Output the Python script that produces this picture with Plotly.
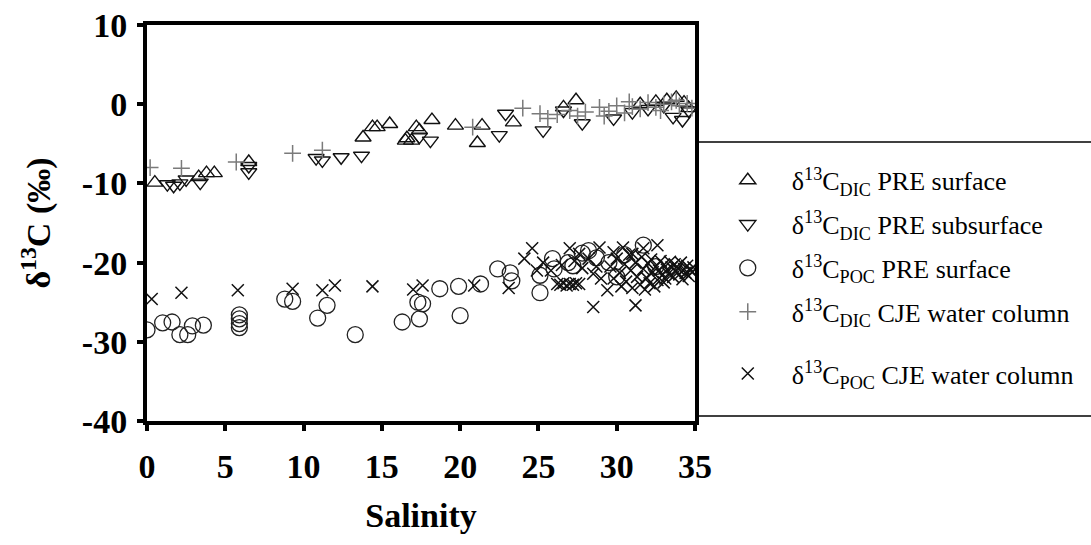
import plotly.graph_objects as go

# ---- data ----
dic_pre_surf_x = [0.5, 3.3, 3.8, 4.3, 6.5, 13.8, 14.4, 14.7, 15.5, 16.5, 16.9, 17.2, 16.6, 17.4,
                  18.2, 19.7, 21.4, 21.1, 23.4, 26.6, 27.4, 31.5, 32.5, 33.2, 33.8, 34.3, 34.6]
dic_pre_surf_y = [-9.9, -9.2, -8.7, -8.7, -7.3, -4.2, -2.9, -2.9, -2.5, -4.6, -4.6, -2.9, -4.3, -3.3,
                  -2.0, -2.7, -2.7, -4.9, -2.3, -0.4, 0.5, 0.0, 0.3, 0.5, 0.8, 0.2, -0.5]

dic_pre_sub_x = [1.3, 1.7, 2.1, 2.5, 3.4, 6.5, 6.5, 10.8, 11.2, 12.4, 13.7, 17.4, 18.1, 22.5, 22.9,
                 25.3, 26.6, 27.8, 29.8, 31.0, 32.0, 33.0, 33.6, 34.2, 34.6]
dic_pre_sub_y = [-10.1, -10.3, -10.0, -9.5, -9.9, -7.8, -8.6, -6.8, -7.1, -6.7, -6.5, -4.1, -4.6, -3.9, -1.2,
                 -3.3, -0.8, -2.4, -1.8, -1.0, -0.6, -0.2, -1.6, -2.0, -0.8]

poc_pre_surf_x = [0.0, 1.0, 1.6, 2.1, 2.6, 2.9, 3.6, 5.9, 5.9, 5.9, 5.9, 8.8, 9.3, 10.9, 11.5, 13.3,
                  16.3, 17.3, 17.4, 17.6, 18.7, 19.9, 20.0, 21.3, 22.4, 23.2, 23.3, 25.1, 25.1, 25.9,
                  26.9, 27.2, 28.2, 28.7, 29.5, 30.5, 31.7, 32.5, 26.0, 27.8, 30.0]
poc_pre_surf_y = [-28.5, -27.6, -27.5, -29.1, -29.1, -28.0, -27.9, -26.6, -27.1, -27.7, -28.2, -24.6, -24.9,
                  -27.0, -25.4, -29.1, -27.5, -25.0, -27.1, -25.2, -23.3, -23.0, -26.7, -22.7, -20.8, -21.3,
                  -22.3, -23.8, -21.6, -19.5, -20.0, -20.4, -18.5, -19.4, -20.0, -19.0, -17.8, -20.5, -20.8,
                  -18.8, -21.8]

dic_cje_x = [0.2, 2.2, 5.7, 9.3, 11.2, 20.8, 24.0, 25.1, 25.6, 27.0, 28.0, 28.9, 29.5, 30.0, 30.5, 31.0,
             31.5, 32.0, 32.5, 33.0, 33.5, 34.0, 34.5, 34.8, 29.2, 30.8, 32.8, 33.8, 26.2, 27.5]
dic_cje_y = [-8.0, -8.1, -7.3, -6.2, -5.8, -2.9, -0.5, -1.2, -1.8, -0.8, -1.0, -0.4, -0.9, -0.2, -1.1, -0.3,
             -0.6, 0.2, -0.4, 0.0, 0.3, -0.2, 0.1, -0.5, -1.5, 0.3, -0.8, 0.5, -1.3, -1.5]

poc_cje_x = [0.3, 2.2, 5.8, 9.3, 11.2, 12.0, 14.4, 17.0, 17.6, 20.9, 23.1, 24.1, 24.6, 24.9, 25.3, 27.0,
             27.6, 28.5, 28.9, 28.5, 31.2, 26.2, 26.4, 26.6, 26.8, 27.0, 27.2, 27.4, 27.6,
             29.6, 29.8, 30.0, 30.2, 30.3, 30.5, 30.6, 30.8, 30.9, 31.0, 31.2, 31.3, 31.5, 31.6, 31.7,
             31.9, 32.0, 32.1, 32.2, 32.3, 32.5, 32.6, 32.7, 32.8, 32.9, 33.0, 33.1, 33.2, 33.3, 33.4,
             33.5, 33.6, 33.7, 33.8, 33.9, 34.0, 34.1, 34.2, 34.3, 34.4, 34.5, 34.6, 34.7, 34.8, 34.9,
             33.0, 32.4, 31.8, 29.4, 29.0, 28.7, 28.2, 27.8, 27.3, 26.5, 25.8,
             29.8, 30.4, 31.0, 31.7, 32.6]
poc_cje_y = [-24.6, -23.8, -23.5, -23.3, -23.5, -22.9, -23.0, -23.4, -22.9, -22.9, -23.2, -19.5, -18.2, -21.0,
             -20.0, -18.2, -18.9, -21.4, -18.1, -25.6, -25.4, -22.7, -22.8, -22.6, -22.9, -22.7, -22.8, -22.6,
             -22.7,
             -20.5, -22.0, -19.5, -21.3, -23.0, -20.2, -22.4, -19.0, -21.0, -23.2, -20.0, -21.8, -22.8, -19.3,
             -20.8, -21.9, -20.1, -22.6, -19.6, -21.2, -20.5, -22.2, -21.0, -19.8, -21.6, -20.3, -22.0, -20.9,
             -21.4, -19.9, -20.6, -21.8, -20.2, -21.1, -20.7, -21.5, -20.0, -22.1, -20.8, -21.3, -20.4, -21.7,
             -20.9, -21.2, -20.6, -22.5, -23.0, -23.4, -23.5, -22.0, -20.5, -19.5, -20.7, -19.8, -20.3, -21.0,
             -18.7, -18.1, -18.9, -18.2, -17.8]

x_ticks = [0, 5, 10, 15, 20, 25, 30, 35]
x_tick_labels = ["0", "5", "10", "15", "20", "25", "30", "35"]
y_ticks = [10, 0, -10, -20, -30, -40]
y_tick_labels = ["10", "0", "-10", "-20", "-30", "-40"]

names = [
    "δ<sup>13</sup>C<sub>DIC</sub> PRE surface",
    "δ<sup>13</sup>C<sub>DIC</sub> PRE subsurface",
    "δ<sup>13</sup>C<sub>POC</sub> PRE surface",
    "δ<sup>13</sup>C<sub>DIC</sub> CJE water column",
    "δ<sup>13</sup>C<sub>POC</sub> CJE water column",
]

SERIF = "Liberation Serif"
fig = go.Figure()

fig.add_trace(go.Scatter(x=dic_pre_surf_x, y=dic_pre_surf_y, mode="markers", name=names[0],
                         legendgroup="g1",
                         marker=dict(symbol="triangle-up-open", size=14, color="#111",
                                     line=dict(width=1.4, color="#111"))))
fig.add_trace(go.Scatter(x=dic_pre_sub_x, y=dic_pre_sub_y, mode="markers", name=names[1],
                         legendgroup="g2",
                         marker=dict(symbol="triangle-down-open", size=14, color="#111",
                                     line=dict(width=1.4, color="#111"))))
fig.add_trace(go.Scatter(x=poc_pre_surf_x, y=poc_pre_surf_y, mode="markers", name=names[2],
                         legendgroup="g3",
                         marker=dict(symbol="circle-open", size=16, color="#222",
                                     line=dict(width=1.3, color="#222"))))
fig.add_trace(go.Scatter(x=dic_cje_x, y=dic_cje_y, mode="markers", name=names[3],
                         legendgroup="g4",
                         marker=dict(symbol="cross-thin-open", size=12, color="#7a7a7a",
                                     line=dict(width=1.5, color="#7a7a7a"))))
fig.add_trace(go.Scatter(x=poc_cje_x, y=poc_cje_y, mode="markers", name=names[4],
                         legend="legend2",
                         marker=dict(symbol="x-thin-open", size=12, color="#111",
                                     line=dict(width=1.5, color="#111"))))

axis_common = dict(showline=True, linewidth=4, linecolor="black", mirror=True,
                   ticks="outside", ticklen=6, tickwidth=4, tickcolor="black",
                   showgrid=False, zeroline=False, automargin=False,
                   ticklabeloverflow="allow")

fig.update_xaxes(range=[0, 35], tickvals=x_ticks,
                 ticktext=["<b>" + t + "</b>" for t in x_tick_labels], **axis_common,
                 tickfont=dict(family="serif", size=34, color="black"),
                 ticklabelstandoff=6,
                 title=dict(text="<b>Salinity</b>", standoff=20,
                            font=dict(family="serif", size=34, color="black")))
fig.update_yaxes(range=[-40, 10], tickvals=y_ticks,
                 ticktext=["<b>" + t + "</b>" for t in y_tick_labels], **axis_common,
                 tickfont=dict(family="serif", size=34, color="black"),
                 ticklabelstandoff=3,
                 title=dict(text="<b>δ<sup>13</sup>C (‰)</b>", standoff=22,
                            font=dict(family="serif", size=34, color="black")))

# legend frame lines (top and bottom)
for yy in [0.7045, 0.0126]:
    fig.add_shape(type="line", xref="paper", yref="paper", x0=1.0, x1=1.8, y0=yy, y1=yy,
                  line=dict(color="black", width=1.5))

leg_common = dict(xanchor="left", yanchor="top",
                  font=dict(family=SERIF, size=26, color="black"),
                  itemwidth=78, bgcolor="rgba(0,0,0,0)")

fig.update_layout(
    width=1091, height=545,
    margin=dict(l=147, r=396, t=25, b=124, autoexpand=False),
    plot_bgcolor="white", paper_bgcolor="white",
    showlegend=True,
    legend=dict(x=1.016, y=0.667, tracegroupgap=7, traceorder="grouped", **leg_common),
    legend2=dict(x=1.016, y=0.179, **leg_common),
)

fig.write_html("out.html", config={"displayModeBar": False},
               post_script="document.body.style.margin='0';document.body.style.overflow='hidden';")
